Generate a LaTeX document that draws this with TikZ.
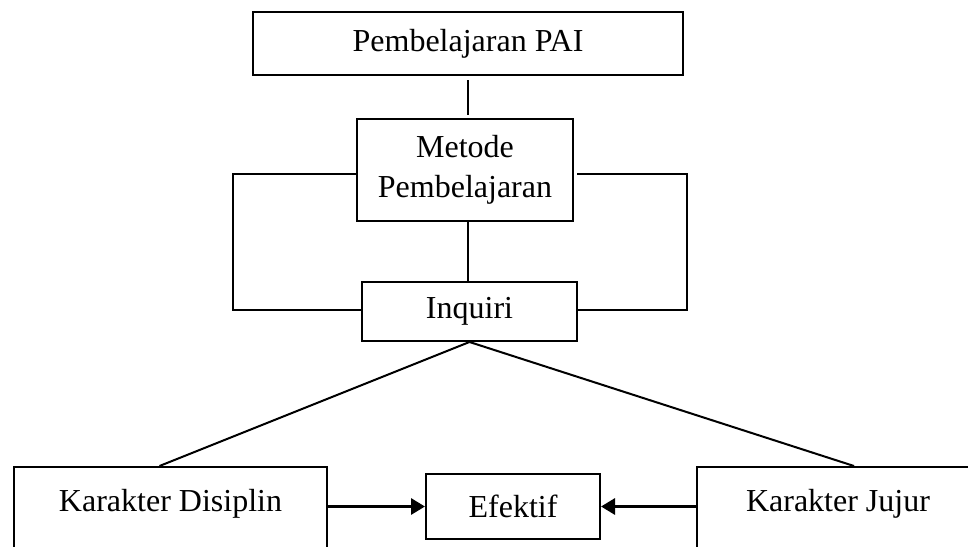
\documentclass[tikz,border=0pt]{standalone}
\usepackage{fontspec}
\setmainfont{Liberation Serif}
\usepackage{tikz}
\usetikzlibrary{arrows.meta}
\tikzset{plain box/.style={rectangle,draw,line width=1pt,inner sep=0pt,align=center,font=\fontsize{16}{20}\selectfont},
bottom box/.style={plain box,anchor=north,text height=22pt,text depth=45pt},
thin line/.style={line width=1pt},
thick arrow/.style={line width=1.5pt,-{Triangle[length=7pt,width=8pt]}}}

\begin{document}
\begin{tikzpicture}[x=0.5pt,y=-0.5pt]
\useasboundingbox (0,0) rectangle (968,546);
\clip (0,0) rectangle (968,546);
% Upper part: subject, method and inquiry
\node[plain box, minimum width=215pt, minimum height=31.5pt] (pai) at (468,43.5) {Pembelajaran PAI};
\node[plain box, minimum width=108pt, minimum height=51pt] (metode) at (465,170) {Metode\\Pembelajaran};
\node[plain box, minimum width=107.5pt, minimum height=29.5pt] (inquiri) at (469.5,311.5) {Inquiri};

\draw[thin line] ([yshift=-2pt]pai.south) -- ([yshift=1.5pt]pai.south |- metode.north);
\draw[thin line] (metode.south -| pai.south) -- (pai.south |- inquiri.north);
\draw[thin line] ([yshift=-2pt]metode.west) -- ++(-123,0) |- ([yshift=1pt]inquiri.west);
\draw[thin line] ([yshift=-2pt,xshift=1.5pt]metode.east) -- ++(110,0) |- ([yshift=1pt]inquiri.east);

% Lower part: the two characters and the result
\node[bottom box, minimum width=156.5pt] (disiplin) at (170.5,466) {Karakter Disiplin};
\node[bottom box, minimum width=141pt] (jujur) at (838,466) {Karakter Jujur};
\node[plain box, minimum width=87pt, minimum height=32.5pt] (efektif) at (513,506.5) {Efektif};

\draw[thin line] (inquiri.south) -- ([xshift=-5.5pt]disiplin.north);
\draw[thin line] (inquiri.south) -- ([xshift=8pt]jujur.north);

\draw[thick arrow] (disiplin.east |- efektif.west) -- (efektif.west);
\draw[thick arrow] (jujur.west |- efektif.east) -- (efektif.east);
\end{tikzpicture}
\end{document}
